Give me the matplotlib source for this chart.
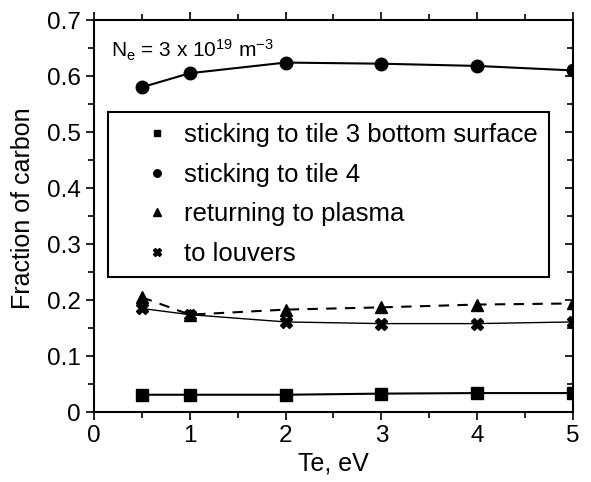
import matplotlib
matplotlib.use('Agg')
import matplotlib.pyplot as plt
from matplotlib.ticker import MultipleLocator

plt.rcParams['font.family'] = ['Liberation Sans', 'DejaVu Sans']
plt.rcParams['mathtext.fontset'] = 'custom'
plt.rcParams['mathtext.rm'] = 'Liberation Sans'

# %% data
te = [0.5, 1, 2, 3, 4, 5]
tile3_bottom = [0.031, 0.031, 0.031, 0.033, 0.034, 0.034]
tile4 = [0.580, 0.605, 0.624, 0.622, 0.618, 0.610]
to_plasma = [0.205, 0.174, 0.183, 0.187, 0.192, 0.194]
to_louvers = [0.185, 0.174, 0.161, 0.158, 0.158, 0.161]

labels = ['sticking to tile 3 bottom surface', 'sticking to tile 4',
          'returning to plasma', 'to louvers']
ne_text = r'N$\mathregular{_e}$ = 3 x 10$\mathregular{^{19}}$ m$\mathregular{^{-3}}$'

# %% plot
fig = plt.figure(figsize=(5.91, 4.82), dpi=100)
ax = fig.add_axes([0.159, 0.145, 0.8105, 0.8135])

h1, = ax.plot(te, tile3_bottom, c='k', lw=1.5, marker='s', ms=8)
h2, = ax.plot(te, tile4, c='k', lw=1.5, marker='o', ms=9)
h3, = ax.plot(te, to_plasma, c='k', lw=1.5, ls=(0, (5, 4)), marker='^', ms=9)
h4, = ax.plot(te, to_louvers, c='k', lw=1.0, marker='X', ms=9)

ax.set_xlim(0, 5)
ax.set_ylim(0, 0.7)
ax.xaxis.set_major_locator(MultipleLocator(1))
ax.xaxis.set_minor_locator(MultipleLocator(0.5))
ax.yaxis.set_major_locator(MultipleLocator(0.1))
ax.yaxis.set_minor_locator(MultipleLocator(0.05))
ax.set_yticks([0, 0.1, 0.2, 0.3, 0.4, 0.5, 0.6, 0.7],
              ['0', '0.1', '0.2', '0.3', '0.4', '0.5', '0.6', '0.7'])

for s in ax.spines.values():
    s.set_linewidth(1.5)
ax.tick_params(which='both', labelsize=17.5, width=1.2, top=True, right=True)
ax.tick_params(which='major', length=6)
ax.tick_params(which='minor', length=4)
ax.tick_params(axis='both', which='both', direction='out')
# right-hand ticks point inward
for t in ax.yaxis.get_ticklines(minor=False)[1::2] + ax.yaxis.get_ticklines(minor=True)[1::2]:
    t.set_marker(0)

ax.set_xlabel('Te, eV', fontsize=18, labelpad=3)
ax.set_ylabel('Fraction of carbon', fontsize=18)
ax.yaxis.set_label_coords(-0.124, 0.52)

ax.text(0.035, 0.905, ne_text, transform=ax.transAxes, fontsize=15)

leg = ax.legend([h1, h2, h3, h4], labels, loc='upper left',
                bbox_to_anchor=(0.029, 0.765), borderaxespad=0,
                fontsize=18.5, frameon=True, fancybox=False, framealpha=1,
                edgecolor='k', borderpad=0.42, labelspacing=0.61,
                handlelength=3.0, handletextpad=-0.45, markerscale=0.6)
leg.get_frame().set_linewidth(1.5)
for line in leg.get_lines():
    line.set_linestyle('none')

fig.savefig('out.png', dpi=100)
